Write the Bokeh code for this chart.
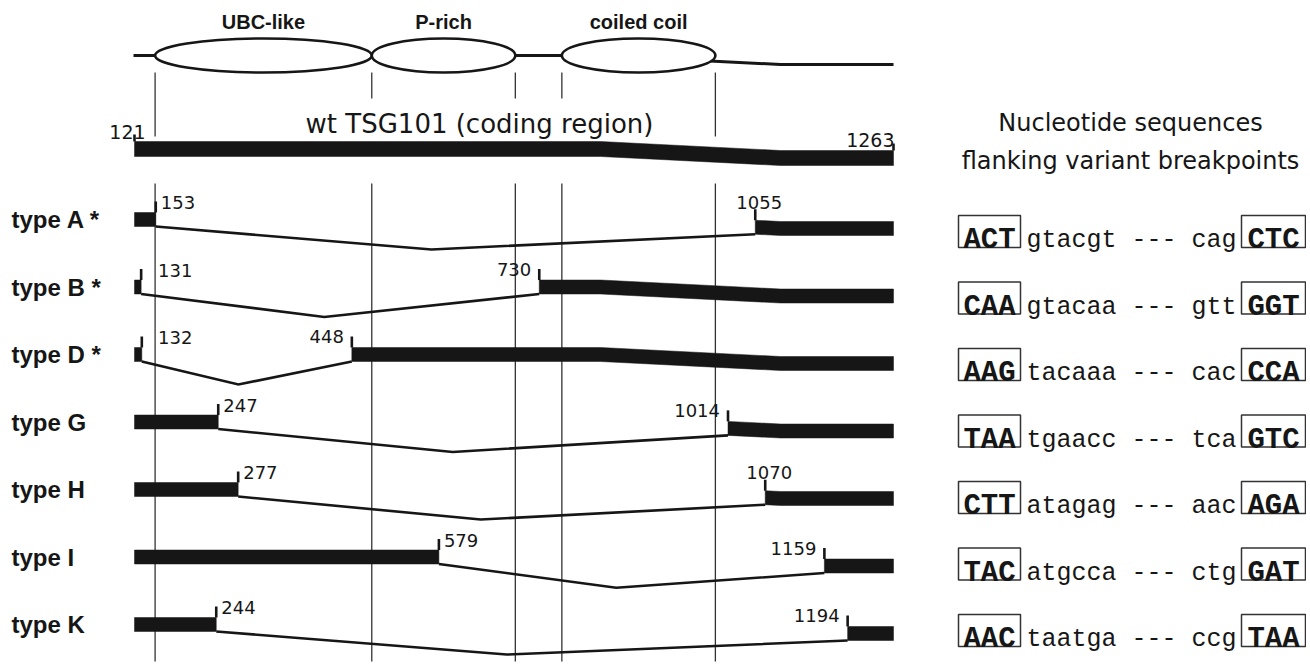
import numpy as np
from bokeh.plotting import figure
from bokeh.models import Range1d
from bokeh.core.properties import value
from bokeh.embed import file_html
from bokeh.resources import INLINE

# ---------------- data ----------------
wt_start, wt_end = 121, 1263
wt_title = "wt TSG101 (coding region)"

domain_names = ["UBC-like", "P-rich", "coiled coil"]
domain_start = [152, 478, 764]
domain_end = [478, 694, 995]

variant_names = ["type A *", "type B *", "type D *", "type G", "type H", "type I", "type K"]
donor_end = [153, 131, 132, 247, 277, 579, 244]          # last nt of 5' part
acceptor_start = [1055, 730, 448, 1014, 1070, 1159, 1194]  # first nt of 3' part

seq_title = ["Nucleotide sequences", "flanking variant breakpoints"]
exon5_seq = ["ACT", "CAA", "AAG", "TAA", "CTT", "TAC", "AAC"]
intron5_seq = ["gtacgt", "gtacaa", "tacaaa", "tgaacc", "atagag", "atgcca", "taatga"]
intron3_seq = ["cag", "gtt", "cac", "tca", "aac", "ctg", "ccg"]
exon3_seq = ["CTC", "GGT", "CCA", "GTC", "AGA", "GAT", "TAA"]

# ---------------- layout / style ----------------
W, H = 1306, 662
PX_WT0, PX_WT1 = 134, 893
K = (PX_WT1 - PX_WT0) / (wt_end - wt_start)
INK = "#161616"
SANS = value("Liberation Sans")
WIDE = value("DejaVu Sans")
MONO = value("Liberation Mono")


def nt(px):
    return wt_start + (px - PX_WT0) / K


def px(n):
    return PX_WT0 + (n - wt_start) * K


def dx(d):
    return d / K


SAG_A, SAG_B, SAG_MAX = 600, 780, 9


def sag(n):
    return SAG_MAX * float(np.clip((px(n) - SAG_A) / (SAG_B - SAG_A), 0, 1))


def bar(n0, n1, yc, h):
    pts = [n0] + [nt(v) for v in (SAG_A, SAG_B) if n0 < nt(v) < n1] + [n1]
    top = [yc - h / 2 + sag(v) for v in pts]
    bot = [yc + h / 2 + sag(v) for v in pts]
    return pts + pts[::-1], top + bot[::-1]


ROW0, ROW_STEP = 219, 67.5
SEQ0, SEQ_STEP = 231, 66.5
BAR_H, WT_Y, WT_H = 14, 148.5, 15
TICK = 11
V_DEPTH, V_FRAC = 23, 0.46
PROT_Y, ELL_H = 55, 34
acc_label_style = ["above", "left", "left", "left", "above", "left", "left"]

p = figure(width=W, height=H, x_range=Range1d(nt(0), nt(W)),
           y_range=Range1d(H, 0), output_backend="svg",
           toolbar_location=None, min_border=0,
           x_axis_type=None, y_axis_type=None)
p.grid.visible = False
p.outline_line_color = None
p.background_fill_color = "white"

# ---- guide lines at domain boundaries ----
guides = sorted(set(domain_start + domain_end))
title_px = (290, 668)
up_end = [98 if title_px[0] < px(g) < title_px[1] else 136 for g in guides]
p.segment(x0=guides, y0=[72] * len(guides), x1=guides, y1=up_end,
          line_color="#333333", line_width=1.3)
p.segment(x0=guides, y0=[183] * len(guides), x1=guides, y1=[661] * len(guides),
          line_color="#333333", line_width=1.3)

# ---- protein line with domains ----
prot_x = [nt(133), nt(SAG_A), nt(SAG_B), wt_end]
p.line(prot_x, [PROT_Y + sag(v) for v in prot_x], line_color=INK, line_width=3)
dom_cx = [(s + e) / 2 for s, e in zip(domain_start, domain_end)]
p.ellipse(x=dom_cx, y=[PROT_Y] * 3,
          width=[e - s for s, e in zip(domain_start, domain_end)],
          height=[ELL_H] * 3, fill_color="white", line_color=INK, line_width=2.6)
p.text(x=dom_cx, y=[21] * 3, text=domain_names, text_font=SANS,
       text_font_style="bold", text_font_size="20px", text_align="center",
       text_baseline="middle", text_color=INK)

# ---- wild type bar ----
xs, ys = [], []
bx, by = bar(wt_start, wt_end, WT_Y, WT_H)
xs.append(bx); ys.append(by)
tick_x0, tick_y0, tick_y1 = [], [], []
for n, h in ((wt_start, 7), (wt_end, 7)):
    t0 = WT_Y - WT_H / 2 + sag(n)
    tick_x0.append(n); tick_y0.append(t0); tick_y1.append(t0 - h)
p.text(x=[wt_start - dx(7)], y=[131], text=[str(wt_start)], text_font=WIDE,
       text_font_size="19px", text_align="center", text_baseline="alphabetic",
       text_color=INK)
p.text(x=[wt_end + dx(1)], y=[WT_Y - WT_H / 2 + sag(wt_end) - 11],
       text=[str(wt_end)], text_font=WIDE, text_font_size="19px",
       text_align="right", text_baseline="alphabetic", text_color=INK)
p.text(x=[nt(479)], y=[123], text=[wt_title], text_font=WIDE,
       text_font_size="26px", text_align="center", text_baseline="middle",
       text_color=INK)

# ---- variants ----
vx, vy = [], []
lab_l = dict(x=[], y=[], t=[])
lab_r = dict(x=[], y=[], t=[])
lab_c = dict(x=[], y=[], t=[])
row_y = []
for i, (d, a) in enumerate(zip(donor_end, acceptor_start)):
    yc = ROW0 + i * ROW_STEP
    row_y.append(yc)
    bx, by = bar(wt_start, d, yc, BAR_H)
    xs.append(bx); ys.append(by)
    bx, by = bar(a, wt_end, yc, BAR_H)
    xs.append(bx); ys.append(by)
    mid = d + V_FRAC * (a - d)
    vx.append([d, mid, a])
    vy.append([yc + BAR_H / 2 + sag(d), yc + BAR_H / 2 + V_DEPTH + sag(mid),
               yc + BAR_H / 2 + sag(a)])
    dtop = yc - BAR_H / 2 + sag(d) - TICK
    atop = yc - BAR_H / 2 + sag(a) - TICK
    tick_x0 += [d, a]
    tick_y0 += [dtop + TICK, atop + TICK]
    tick_y1 += [dtop, atop]
    lab_l["x"].append(nt(max(px(d) + 5, px(guides[0]) + 3)))
    lab_l["y"].append(dtop + 1)
    lab_l["t"].append(str(d))
    if acc_label_style[i] == "above":
        lab_c["x"].append(a + dx(4)); lab_c["y"].append(atop - 7); lab_c["t"].append(str(a))
    else:
        lab_r["x"].append(a - dx(8)); lab_r["y"].append(atop); lab_r["t"].append(str(a))

p.patches(xs, ys, fill_color=INK, line_color=INK, line_width=0.5)
p.multi_line(vx, vy, line_color=INK, line_width=2.6, line_join="miter")
p.segment(x0=tick_x0, y0=tick_y0, x1=tick_x0, y1=tick_y1, line_color=INK,
          line_width=2.6, line_cap="butt")

for lab, al in ((lab_l, "left"), (lab_r, "right"), (lab_c, "center")):
    p.text(x=lab["x"], y=lab["y"], text=lab["t"], text_font=WIDE,
           text_font_size="18px", text_align=al, text_baseline="alphabetic",
           text_color=INK)

p.text(x=[nt(11)] * len(variant_names), y=row_y, text=variant_names,
       text_font=SANS, text_font_style="bold", text_font_size="24px",
       text_align="left", text_baseline="middle", text_color=INK)

# ---- flanking sequences ----
p.text(x=[nt(1130)] * 2, y=[122, 160], text=seq_title, text_font=WIDE,
       text_font_size="24px", text_align="center", text_baseline="middle",
       text_color=INK)
seq_y = [SEQ0 + i * SEQ_STEP for i in range(len(exon5_seq))]
n_rows = len(seq_y)
p.quad(left=[nt(958)] * n_rows, right=[nt(1020)] * n_rows,
       top=[y - 16 for y in seq_y], bottom=[y + 16 for y in seq_y],
       fill_color=None, line_color="#333333", line_width=1.5)
p.quad(left=[nt(1241)] * n_rows, right=[nt(1305)] * n_rows,
       top=[y - 16 for y in seq_y], bottom=[y + 16 for y in seq_y],
       fill_color=None, line_color="#333333", line_width=1.5)
base = [y + 9 for y in seq_y]
p.text(x=[nt(989)] * n_rows, y=base, text=exon5_seq, text_font=MONO,
       text_font_style="bold", text_font_size="29px", text_align="center",
       text_baseline="alphabetic", text_color=INK)
p.text(x=[nt(1273)] * n_rows, y=base, text=exon3_seq, text_font=MONO,
       text_font_style="bold", text_font_size="29px", text_align="center",
       text_baseline="alphabetic", text_color=INK)
p.text(x=[nt(1026)] * n_rows, y=base,
       text=[f"{a} --- {b}" for a, b in zip(intron5_seq, intron3_seq)],
       text_font=MONO, text_font_size="25px", text_align="left",
       text_baseline="alphabetic", text_color=INK)

open("out.html", "w").write(file_html(p, INLINE))
